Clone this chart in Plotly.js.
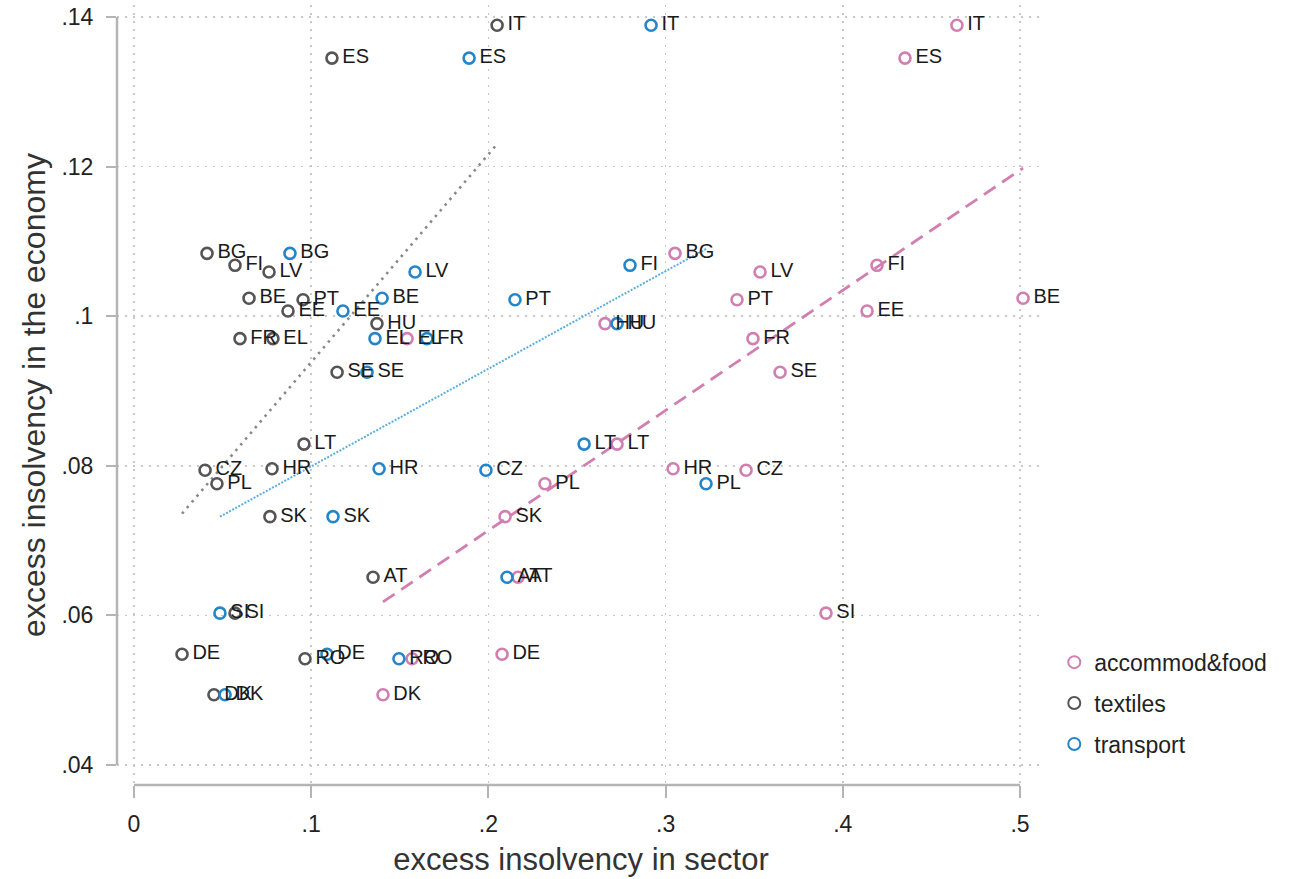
<!DOCTYPE html>
<html>
<head>
<meta charset="utf-8">
<script src="https://cdn.plot.ly/plotly-3.0.1.min.js"></script>
<style>html,body{margin:0;padding:0;background:#fff;}#chart{width:1298px;height:879px;}</style>
</head>
<body>
<div id="chart"></div>
<script>
// Country codes
const countries = ["IT","ES","BG","FI","LV","BE","PT","EE","HU","FR","EL","SE","LT","HR","CZ","PL","SK","AT","SI","DE","RO","DK"];
// Excess insolvency in the economy (y, shared by all sectors)
const economy = [0.1389,0.1345,0.1084,0.1068,0.1059,0.1024,0.1022,0.1007,0.0990,0.0970,0.0970,0.0925,0.0829,0.0796,0.0794,0.0776,0.0732,0.0651,0.0603,0.0548,0.0542,0.0494];
// Excess insolvency in sector (x)
const accommodFood = [0.4644,0.4351,0.3053,0.4193,0.3533,0.5017,0.3403,0.4137,0.2658,0.3493,0.1541,0.3646,0.2726,0.3042,0.3454,0.2319,0.2094,0.2167,0.3905,0.2077,0.1569,0.1405];
const textiles     = [0.2049,0.1117,0.0412,0.0570,0.0762,0.0649,0.0954,0.0869,0.1371,0.0598,0.0784,0.1146,0.0959,0.0779,0.0401,0.0468,0.0767,0.1349,0.0570,0.0271,0.0965,0.0451];
const transport    = [0.2918,0.1891,0.0880,0.2799,0.1586,0.1400,0.2150,0.1179,0.2726,0.1653,0.1360,0.1315,0.2540,0.1383,0.1986,0.3228,0.1123,0.2105,0.0485,0.1089,0.1495,0.0514];
// Linear fit endpoints
const fitAccX = [0.1405,0.5017], fitAccY = [0.0618,0.1198];
const fitTexX = [0.0271,0.2049], fitTexY = [0.0736,0.1230];
const fitTraX = [0.0485,0.3228], fitTraY = [0.0732,0.1090];
// Axis ticks
const xTickVals = [0,0.1,0.2,0.3,0.4,0.5];
const xTickText = ["0",".1",".2",".3",".4",".5"];
const yTickVals = [0.04,0.06,0.08,0.1,0.12,0.14];
const yTickText = [".04",".06",".08",".1",".12",".14"];
const seriesNames = ["accommod&food","textiles","transport"];

const FONT = "Liberation Sans, Arial, sans-serif";
const colPink = "#d07fb0", colGray = "#555555", colBlue = "#2486c8";

function markerTrace(x, name, color){
  return {type:"scatter", mode:"markers", x:x, y:economy, name:name, legendgroup:name,
    marker:{symbol:"circle-open", size:11, color:color, line:{width:2.6, color:color}},
    hoverinfo:"skip", cliponaxis:false};
}
function labelTrace(x){
  return {type:"scatter", mode:"markers+text", x:x, y:economy, text:countries,
    textposition:"middle right", textfont:{family:FONT, size:20, color:"#1a1a1a"},
    marker:{size:15, color:"rgba(0,0,0,0)"}, showlegend:false, hoverinfo:"skip", cliponaxis:false};
}
function fitTrace(x, y, color, dash, width){
  return {type:"scatter", mode:"lines", x:x, y:y, showlegend:false, hoverinfo:"skip",
    line:{color:color, dash:dash, width:width}};
}

const data = [
  fitTrace(fitAccX, fitAccY, colPink, "14px,8px", 2.8),
  fitTrace(fitTexX, fitTexY, "#888888", "2.5px,5px", 2.6),
  fitTrace(fitTraX, fitTraY, "#5aaee0", "2px,1.5px", 2),
  markerTrace(accommodFood, seriesNames[0], colPink),
  markerTrace(textiles, seriesNames[1], colGray),
  markerTrace(transport, seriesNames[2], colBlue),
  labelTrace(accommodFood),
  labelTrace(textiles),
  labelTrace(transport)
];

const axisGray = "#b4b4b4";
const layout = {
  width:1298, height:879,
  margin:{l:117, r:253, t:5, b:94, pad:0},
  paper_bgcolor:"#ffffff", plot_bgcolor:"#ffffff",
  font:{family:FONT, color:"#222"},
  showlegend:true,
  legend:{x:1.010, y:0.185, xanchor:"left", yanchor:"top", font:{family:FONT, size:23, color:"#222"},
    tracegroupgap:8, bgcolor:"rgba(0,0,0,0)", itemsizing:"constant"},
  xaxis:{range:[-0.0096,0.5141], tickvals:xTickVals, ticktext:xTickText, showgrid:true,
    gridcolor:"#c8c8c8", griddash:"2px,6px", gridwidth:1.5, zeroline:false, showline:false,
    ticks:"outside", ticklen:12, tickwidth:2, tickcolor:axisGray, ticklabelstandoff:6,
    tickfont:{family:FONT, size:23, color:"#222"},
    title:{text:"excess insolvency in sector", font:{family:FONT, size:31, color:"#333"}, standoff:12}},
  yaxis:{range:[0.03733,0.1416], tickvals:yTickVals, ticktext:yTickText, showgrid:true,
    gridcolor:"#c8c8c8", griddash:"2px,6px", gridwidth:1.5, zeroline:false, showline:false,
    ticks:"outside", ticklen:10, tickwidth:2, tickcolor:axisGray, ticklabelstandoff:8,
    tickfont:{family:FONT, size:23, color:"#222"},
    title:{text:"excess insolvency in the economy", font:{family:FONT, size:32, color:"#333"}, standoff:6}},
  shapes:[
    {type:"line", xref:"x", yref:"paper", x0:0, x1:0.5, y0:0, y1:0, line:{color:axisGray, width:2.5}},
    {type:"line", xref:"paper", yref:"y", x0:0, x1:0, y0:0.04, y1:0.14, line:{color:axisGray, width:2.5}}
  ]
};
Plotly.newPlot("chart", data, layout, {displayModeBar:false, staticPlot:true});
</script>
</body>
</html>
